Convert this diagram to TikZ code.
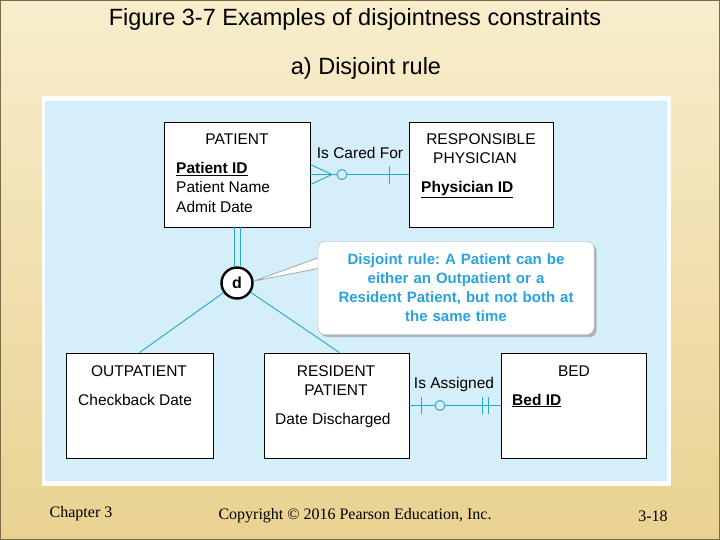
\documentclass[tikz,border=0pt]{standalone}
\usepackage{fontspec}
\setmainfont{Liberation Sans}
\newfontfamily\footfont{Liberation Serif}
\usetikzlibrary{shadows}
\frenchspacing
\definecolor{panel}{RGB}{212,238,250}
\definecolor{relc}{RGB}{38,166,200}
\definecolor{notec}{RGB}{41,163,220}
\definecolor{tanA}{RGB}{248,238,205}
\definecolor{tanB}{RGB}{233,210,145}
\definecolor{edgec}{RGB}{120,110,70}
\tikzset{
  entity/.style={draw=black, fill=white, line width=0.8pt, inner sep=0pt, minimum height=105pt},
  lbl/.style={inner sep=0pt, font=\fontsize{15.5}{18}\selectfont},
  relline/.style={draw=relc, line width=0.9pt},
  optc/.style={circle, draw=relc, line width=0.9pt, fill=panel, minimum size=10pt, inner sep=0pt},
  dcirc/.style={circle, draw=black, line width=2.4pt, fill=white, minimum size=31pt, inner sep=0pt, font=\bfseries\fontsize{16}{18}\selectfont},
  notebox/.style={draw=gray!60, fill=white, rounded corners=7pt, minimum width=276pt, minimum height=93pt,
    text width=270pt, align=center, inner sep=0pt, text=notec, font=\bfseries\fontsize{15}{19}\selectfont,
    drop shadow={opacity=0.5, shadow xshift=2.5pt, shadow yshift=-2.5pt}},
  foot/.style={inner sep=0pt, font=\footfont\fontsize{16}{18}\selectfont}
}
\begin{document}
\begin{tikzpicture}[x=1pt,y=-1pt]
\useasboundingbox (0,0) rectangle (720,540);
% slide background
\shade[top color=tanA, bottom color=tanB] (0,0) rectangle (720,540);
\draw[edgec, line width=1.2pt] (0.6,0.6) rectangle (719.4,539.4);
% titles
\node[inner sep=0pt, font=\fontsize{23.5}{26}\selectfont] (title) at (355,19) {Figure 3-7 Examples of disjointness constraints};
\node[inner sep=0pt, font=\fontsize{23.5}{26}\selectfont] (sub) at (366,68) {a) Disjoint rule};
% panel
\fill[white] (42,96) rectangle (671,486);
\fill[panel] (45,101) rectangle (667,481);
% entities
\node[entity, minimum width=146pt] (pat) at (237,174.5) {};
\node[entity, minimum width=144pt] (phy) at (481,174.5) {};
\node[entity, minimum width=147pt] (out) at (139.5,405.5) {};
\node[entity, minimum width=145pt] (res) at (336.5,405.5) {};
\node[entity, minimum width=145pt] (bed) at (573.5,405.5) {};
% entity texts
\node[lbl, anchor=base] (patT) at (237,145) {PATIENT};
\node[lbl, anchor=base west] (patA1) at (176,174) {\bfseries\underline{Patient ID}};
\node[lbl, anchor=base west] (patA2) at (176,193) {Patient Name};
\node[lbl, anchor=base west] (patA3) at (176,212) {Admit Date};
\node[lbl, anchor=base] (phyT1) at (481,145) {RESPONSIBLE};
\node[lbl, anchor=base] (phyT2) at (475,164) {PHYSICIAN};
\node[lbl, anchor=base west] (phyA1) at (421,193) {\bfseries\underline{Physician ID}};
\node[lbl, anchor=base] (outT) at (139,376) {OUTPATIENT};
\node[lbl, anchor=base west] (outA1) at (78,405) {Checkback Date};
\node[lbl, anchor=base] (resT1) at (336,376) {RESIDENT};
\node[lbl, anchor=base] (resT2) at (336,395) {PATIENT};
\node[lbl, anchor=base west] (resA1) at (275,424) {Date Discharged};
\node[lbl, anchor=base] (bedT) at (574,376) {BED};
\node[lbl, anchor=base west] (bedA1) at (512,405) {\bfseries\underline{Bed ID}};
% Is Cared For
\draw[relline] (pat.east) -- (phy.west);
\coordinate (cf) at (332,174.5);
\draw[relline] ([yshift=10pt]pat.east) -- (cf) -- ([yshift=-10pt]pat.east);
\node[optc] (o1) at (342,174.5) {};
\draw[relline] (389,166) -- (389,184);
\node[lbl] (rel1) at (360,153) {Is Cared For};
% Is Assigned
\draw[relline] (res.east) -- (bed.west);
\draw[relline] (421,397) -- (421,414);
\node[optc] (o2) at (440,405.5) {};
\draw[relline] (482,397) -- (482,414);
\draw[relline] (488,397) -- (488,414);
\node[lbl] (rel2) at (454,384) {Is Assigned};
% disjoint circle
\node[dcirc] (d) at (237,283) {d};
\draw[relline] ([xshift=-3pt]pat.south) -- ([xshift=-3pt]d.north);
\draw[relline] ([xshift=3pt]pat.south) -- ([xshift=3pt]d.north);
\draw[relline] (d) -- (out.north);
\draw[relline] (d) -- ([xshift=3pt]res.north);
% callout
\coordinate (tip) at (254,281);
\filldraw[fill=white, draw=gray!70, line width=0.8pt] (tip) -- (326,255) -- (326,267) -- cycle;
\node[notebox] (note) at (456,288) {Disjoint rule: A Patient can be\\ either an Outpatient or a\\ Resident Patient, but not both at\\ the same time};
% footer
\node[foot] (f1) at (81,514) {Chapter 3};
\node[foot] (f2) at (355,516) {Copyright © 2016 Pearson Education, Inc.};
\node[foot] (f3) at (653,516) {3-18};
\end{tikzpicture}
\end{document}
